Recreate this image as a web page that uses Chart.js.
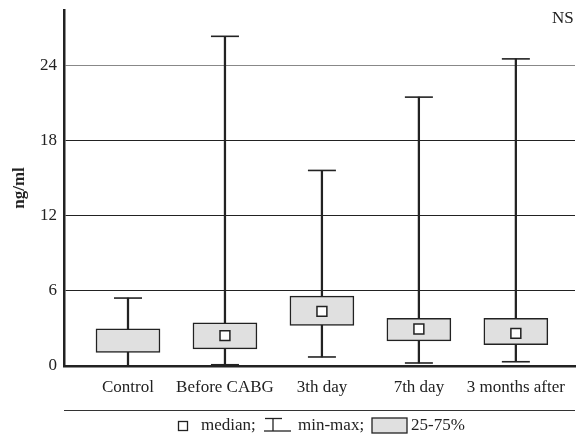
<!DOCTYPE html>
<html>
<head>
<meta charset="utf-8">
<script src="https://cdn.jsdelivr.net/npm/chart.js@4/dist/chart.umd.min.js"></script>
<style>
  html, body { margin: 0; padding: 0; background: #fff; }
  #wrap { position: relative; width: 578px; height: 437px; font-family: "Liberation Serif", "DejaVu Serif", serif; color: #222; }
  .txt { position: absolute; font-size: 17px; line-height: 17px; white-space: nowrap; }
  .ico { position: absolute; }
  #rule { position: absolute; left: 64px; top: 410px; width: 511px; height: 0; border-top: 1.5px solid #333; }
</style>
</head>
<body>
<div id="wrap">
  <canvas id="chart" width="578" height="437"></canvas>
  <div class="txt" style="left:552px; top:9px;">NS</div>
  <div id="rule"></div>
  <svg class="ico" style="left:177px; top:420px;" width="12" height="12"><rect x="1.5" y="1.5" width="9" height="9" fill="#fff" stroke="#222" stroke-width="1.3"/></svg>
  <div class="txt" style="left:201px; top:416px;">median;</div>
  <svg class="ico" style="left:263px; top:417px;" width="30" height="16"><line x1="2" y1="1.5" x2="19" y2="1.5" stroke="#222" stroke-width="1.3"/><line x1="10" y1="1.5" x2="10" y2="14" stroke="#222" stroke-width="1.3"/><line x1="1" y1="14" x2="28" y2="14" stroke="#222" stroke-width="1.3"/></svg>
  <div class="txt" style="left:298px; top:416px;">min-max;</div>
  <svg class="ico" style="left:371px; top:417px;" width="38" height="18"><rect x="1" y="1" width="35" height="15" fill="#e0e0e0" stroke="#222" stroke-width="1.3"/></svg>
  <div class="txt" style="left:411px; top:416px;">25-75%</div>
</div>
<script>
const categories = ["Control", "Before CABG", "3th day", "7th day", "3 months after"];
const minValues = [0, 0.1, 0.72, 0.24, 0.34];
const q1Values = [1.09, 1.36, 3.24, 2.0, 1.7];
const medianValues = [null, 2.42, 4.36, 2.95, 2.6];
const q3Values = [2.97, 3.45, 5.58, 3.8, 3.8];
const maxValues = [5.42, 26.3, 15.6, 21.45, 24.5];
const yTicks = [0, 6, 12, 18, 24];

const ink = "#222";
const serif = "'Liberation Serif', 'DejaVu Serif', serif";

const whiskers = categories.map((c, i) => ({ x: i, y: [minValues[i], maxValues[i]] }));
const boxes = categories.map((c, i) => ({ x: i, y: [q1Values[i], q3Values[i]] }));
const caps = [];
categories.forEach((c, i) => {
  caps.push({ x: i, y: minValues[i] });
  caps.push({ x: i, y: maxValues[i] });
});
const medians = categories.map((c, i) => ({ x: i, y: medianValues[i] }));

new Chart(document.getElementById("chart").getContext("2d"), {
  type: "bar",
  data: {
    datasets: [
      {
        data: whiskers,
        backgroundColor: ink,
        barThickness: 1.6,
        grouped: false,
        order: 3
      },
      {
        type: "scatter",
        data: caps,
        pointStyle: "line",
        pointRadius: 14,
        borderColor: ink,
        borderWidth: 1.6,
        order: 2
      },
      {
        data: boxes,
        backgroundColor: "#e0e0e0",
        borderColor: ink,
        borderWidth: 1.5,
        borderSkipped: false,
        barThickness: 64,
        grouped: false,
        order: 1
      },
      {
        type: "scatter",
        data: medians,
        pointStyle: "rect",
        pointRadius: 7,
        backgroundColor: "#fff",
        borderColor: ink,
        borderWidth: 1.5,
        order: 0
      }
    ]
  },
  options: {
    responsive: false,
    animation: false,
    layout: { autoPadding: false, padding: { left: 0, right: 3, top: 10, bottom: 37 } },
    plugins: { legend: { display: false }, tooltip: { enabled: false } },
    scales: {
      x: {
        type: "linear",
        offset: false,
        min: -0.66,
        max: 4.61,
        afterFit: (scale) => { scale.height = 34; scale.paddingLeft = 0; scale.paddingRight = 0; },
        afterBuildTicks: (scale) => { scale.ticks = categories.map((c, i) => ({ value: i })); },
        grid: { display: false, drawTicks: false },
        border: { color: ink, width: 2.5 },
        ticks: {
          padding: 11,
          maxRotation: 0,
          minRotation: 0,
          autoSkip: false,
          color: ink,
          font: { family: serif, size: 17 },
          callback: (v) => categories[v]
        }
      },
      y: {
        min: 0,
        max: 28.4,
        afterFit: (scale) => { scale.width = 64; scale.paddingTop = 0; scale.paddingBottom = 0; },
        afterBuildTicks: (scale) => { scale.ticks = yTicks.map((v) => ({ value: v })); },
        grid: {
          drawTicks: false,
          color: (ctx) => (ctx.tick && ctx.tick.value === 24 ? "#888" : ink),
          lineWidth: 1
        },
        border: { color: ink, width: 2.5 },
        ticks: { padding: 7, color: ink, font: { family: serif, size: 17 } },
        title: {
          display: true,
          text: "ng/ml",
          color: ink,
          padding: { top: 9, bottom: 0 },
          font: { family: serif, size: 17, weight: "bold" }
        }
      }
    }
  }
});
</script>
</body>
</html>
